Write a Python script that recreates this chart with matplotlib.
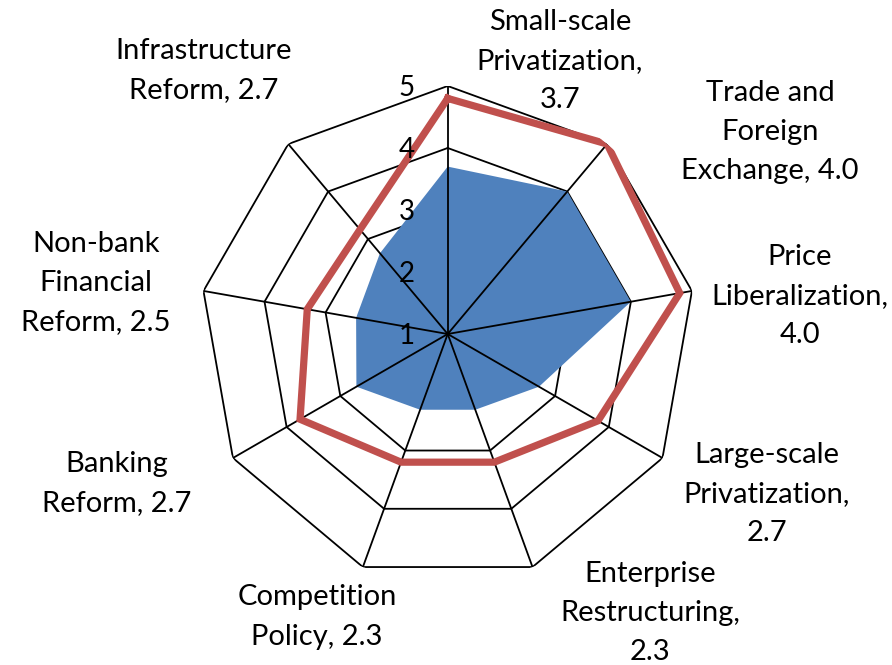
import numpy as np
import matplotlib
matplotlib.use("Agg")
import matplotlib.pyplot as plt

plt.rcParams['font.family'] = ['Lato', 'DejaVu Sans']

categories = ["Small-scale\nPrivatization,", "Trade and\nForeign\nExchange,", "Price\nLiberalization,",
              "Large-scale\nPrivatization,", "Enterprise\nRestructuring,", "Competition\nPolicy,",
              "Banking\nReform,", "Non-bank\nFinancial\nReform,", "Infrastructure\nReform,"]
# separator between category and value ("\n" = value on its own line, " " = same line)
value_sep = ["\n", " ", "\n", "\n", "\n", " ", " ", " ", " "]
country = [3.7, 4.0, 4.0, 2.7, 2.3, 2.3, 2.7, 2.5, 2.7]
benchmark = [4.8, 5.0, 4.8, 3.8, 3.2, 3.2, 3.75, 3.3, 3.2]
rings = [2, 3, 4, 5]
tick_labels = ["1", "2", "3", "4", "5"]

W, H = 892, 665
fig = plt.figure(figsize=(W / 100, H / 100), dpi=100)
cx, cy, R = 447.7, 334, 248
ax = fig.add_axes([(cx - R) / W, (H - cy - R) / H, 2 * R / W, 2 * R / H], projection='polar')
ax.set_theta_zero_location('N')
ax.set_theta_direction(-1)
ax.set_rlim(1, 5)
ax.grid(False)
ax.set_xticks([])
ax.set_yticks([])
ax.spines['polar'].set_visible(False)
ax.patch.set_alpha(0)

n = len(country)
theta = np.arange(n) * 2 * np.pi / n
tc = np.append(theta, theta[0])

for r in rings:
    ax.plot(tc, [r] * (n + 1), color='black', lw=1.3, zorder=1, solid_joinstyle='miter')

ax.fill(tc, country + country[:1], color='#4F81BD', lw=0, zorder=2)

for t in theta:
    ax.plot([t, t], [1, 5], color='black', lw=1.3, zorder=3)

ax.plot(tc, benchmark + benchmark[:1], color='#C0504D', lw=5.2, zorder=4,
        solid_joinstyle='miter')

for i, lab in enumerate(tick_labels):
    ax.annotate(lab, xy=(0, i + 1), xytext=(-33, -2), textcoords='offset pixels',
                ha='right', va='center', fontsize=20, zorder=5)

# label centre positions in pixels
label_pos = [(560, 61), (770, 132), (800, 296), (767, 494), (650, 613),
             (317, 617), (117, 484), (96, 283), (204, 71)]
for cat, sep, v, (x, y) in zip(categories, value_sep, country, label_pos):
    fig.text(x / W, 1 - y / H, f"{cat}{sep}{v:.1f}", ha='center', va='center',
             fontsize=21, linespacing=1.62, multialignment='center')

fig.savefig("out.png", dpi=100)
